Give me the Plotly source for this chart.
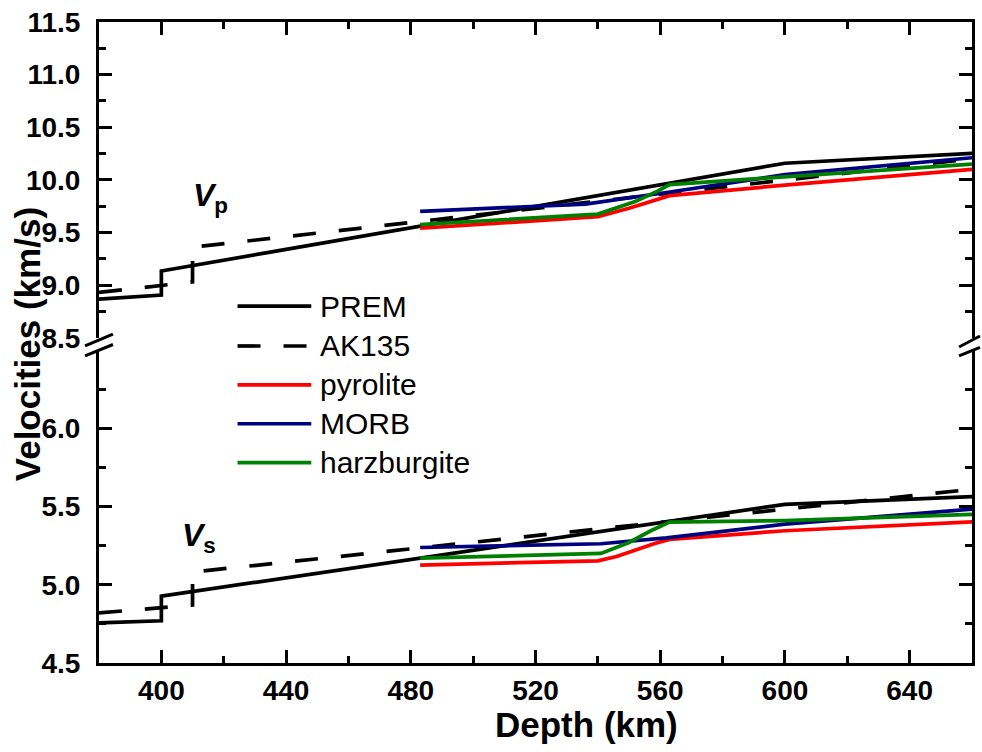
import plotly.graph_objects as go

# ---------------- data ----------------
# Reference Earth models
depth_prem = [380, 400, 400, 600, 660]
vp_prem = [8.867, 8.905, 9.134, 10.158, 10.251]
vs_prem = [4.756, 4.770, 4.927, 5.514, 5.563]

depth_ak135 = [380, 410, 410, 460, 510, 560, 610, 660]
vp_ak135 = [8.93, 9.03, 9.36, 9.528, 9.696, 9.864, 10.032, 10.200]
vs_ak135 = [4.82, 4.870, 5.081, 5.186, 5.292, 5.399, 5.505, 5.610]

# Mineral-physics models, P-wave
depth_pyr_vp = [483, 540, 550, 558, 563, 600, 660]
vp_pyrolite = [9.54, 9.65, 9.73, 9.80, 9.85, 9.95, 10.10]

depth_morb_vp = [483, 520, 536, 562, 600, 660]
vp_morb = [9.70, 9.75, 9.77, 9.88, 10.05, 10.21]

depth_harz_vp = [483, 540, 552, 559, 563, 600, 660]
vp_harzburgite = [9.575, 9.675, 9.795, 9.89, 9.955, 10.03, 10.15]

# Mineral-physics models, S-wave
depth_pyr_vs = [483, 540, 546, 552, 558, 563, 600, 660]
vs_pyrolite = [5.126, 5.153, 5.18, 5.222, 5.262, 5.29, 5.345, 5.402]

depth_morb_vs = [483, 541, 562, 600, 660]
vs_morb = [5.238, 5.262, 5.30, 5.387, 5.483]

depth_harz_vs = [483, 541, 550, 557, 563, 600, 660]
vs_harzburgite = [5.17, 5.20, 5.27, 5.345, 5.40, 5.41, 5.45]

x_ticks = [400, 440, 480, 520, 560, 600, 640]
vs_ticks = [4.5, 5.0, 5.5, 6.0]
vp_ticks = [8.5, 9.0, 9.5, 10.0, 10.5, 11.0, 11.5]

series = [
    # name, colour, dash, (depth, vp), (depth, vs)
    ("PREM", "#000000", "solid", (depth_prem, vp_prem), (depth_prem, vs_prem)),
    ("AK135", "#000000", "23px,23px", (depth_ak135, vp_ak135), (depth_ak135, vs_ak135)),
    ("pyrolite", "#ff0000", "solid", (depth_pyr_vp, vp_pyrolite), (depth_pyr_vs, vs_pyrolite)),
    ("MORB", "#000080", "solid", (depth_morb_vp, vp_morb), (depth_morb_vs, vs_morb)),
    ("harzburgite", "#008000", "solid", (depth_harz_vp, vp_harzburgite), (depth_harz_vs, vs_harzburgite)),
]

# ---------------- layout geometry ----------------
W, H = 982, 752
L, R, T, B = 99, 7, 20, 89
PW, PH = W - L - R, H - T - B


def fx(px):
    return (px - L) / PW


def fy(py):
    return (H - B - py) / PH


FONT = "Arial, Liberation Sans, sans-serif"

fig = go.Figure()

for name, color, dash, (dvp, vp), (dvs, vs) in series:
    fig.add_trace(go.Scatter(x=dvp, y=vp, mode="lines", name=name,
                             line=dict(color=color, width=3.7, dash=dash),
                             xaxis="x2", yaxis="y2", showlegend=False))
    fig.add_trace(go.Scatter(x=dvs, y=vs, mode="lines", name=name,
                             line=dict(color=color, width=3.7, dash=dash),
                             xaxis="x", yaxis="y", showlegend=False))

tickfont = dict(family=FONT, size=28, color="black", weight="bold")
common_axis = dict(showgrid=False, zeroline=False, showline=True, linewidth=3,
                   linecolor="black", ticks="inside", ticklen=13, tickwidth=2.5,
                   tickcolor="black", tickfont=tickfont)
minor_x = dict(ticks="inside", ticklen=7, tickwidth=2.5, tickcolor="black",
               tickmode="linear", tick0=380, dtick=20)

fig.update_layout(
    width=W, height=H,
    margin=dict(l=L, r=R, t=T, b=B),
    paper_bgcolor="white", plot_bgcolor="white",
    showlegend=False,
    xaxis=dict(range=[380, 660], anchor="y", tickmode="array", tickvals=x_ticks,
               ticktext=[str(v) for v in x_ticks], ticklabelstandoff=0,
               minor=minor_x, **common_axis),
    xaxis2=dict(range=[380, 660], matches="x", anchor="y2", side="top",
                showticklabels=False, tickmode="array", tickvals=x_ticks,
                minor=minor_x, **common_axis),
    yaxis=dict(domain=[0, fy(349)], range=[4.5, 6.5], anchor="x", mirror="ticks",
               tickmode="array", tickvals=vs_ticks,
               ticktext=[f"{v:.1f}" for v in vs_ticks], ticklabelstandoff=10,
               minor=dict(ticks="inside", ticklen=7, tickwidth=2.5, tickcolor="black",
                          tickmode="linear", tick0=4.75, dtick=0.5),
               **common_axis),
    yaxis2=dict(domain=[fy(336.7), 1], range=[8.5, 11.5], anchor="x2", mirror="ticks",
                tickmode="array", tickvals=vp_ticks,
                ticktext=[f"{v:.1f}" for v in vp_ticks], ticklabelstandoff=10,
                minor=dict(ticks="inside", ticklen=7, tickwidth=2.5, tickcolor="black",
                           tickmode="linear", tick0=8.75, dtick=0.5),
                **common_axis),
)

shapes = []
annotations = []

# axis-break marks on both vertical axes
for x0, x1, ys in [(85, 113, [(345, 333), (355, 343.5)]),
                   (962, 983, [(346, 335), (355, 346.5)])]:
    for y0, y1 in ys:
        shapes.append(dict(type="line", xref="paper", yref="paper",
                           x0=fx(x0), y0=fy(y0), x1=fx(x1), y1=fy(y1),
                           line=dict(color="black", width=3)))

# legend
legend_y = [305, 345, 384, 423, 462]
for (name, color, dash, _, _), ly in zip(series, legend_y):
    shapes.append(dict(type="line", xref="paper", yref="paper",
                       x0=fx(238), x1=fx(312), y0=fy(ly), y1=fy(ly),
                       line=dict(color=color, width=3.7, dash=dash)))
    annotations.append(dict(text=name, xref="paper", yref="paper", x=fx(319), y=fy(ly),
                            xanchor="left", yanchor="middle", showarrow=False,
                            font=dict(family=FONT, size=30, color="black")))

# axis titles
annotations.append(dict(text="<b>Velocities (km/s)</b>", xref="paper", yref="paper",
                        x=fx(28), y=fy(343), textangle=-90, showarrow=False,
                        xanchor="center", yanchor="middle",
                        font=dict(family=FONT, size=35, color="black")))
annotations.append(dict(text="<b>Depth (km)</b>", xref="paper", yref="paper",
                        x=fx(588), y=fy(725), showarrow=False,
                        xanchor="center", yanchor="middle",
                        font=dict(family=FONT, size=35, color="black")))

# panel labels
annotations.append(dict(text="<b><i>V</i></b><sub><b>p</b></sub>", xref="paper", yref="paper",
                        x=fx(191), y=fy(196), xanchor="left", yanchor="middle",
                        showarrow=False, font=dict(family=FONT, size=32, color="black")))
annotations.append(dict(text="<b><i>V</i></b><sub><b>s</b></sub>", xref="paper", yref="paper",
                        x=fx(180), y=fy(537), xanchor="left", yanchor="middle",
                        showarrow=False, font=dict(family=FONT, size=32, color="black")))

fig.update_layout(shapes=shapes, annotations=annotations)

fig.write_html("out.html")
